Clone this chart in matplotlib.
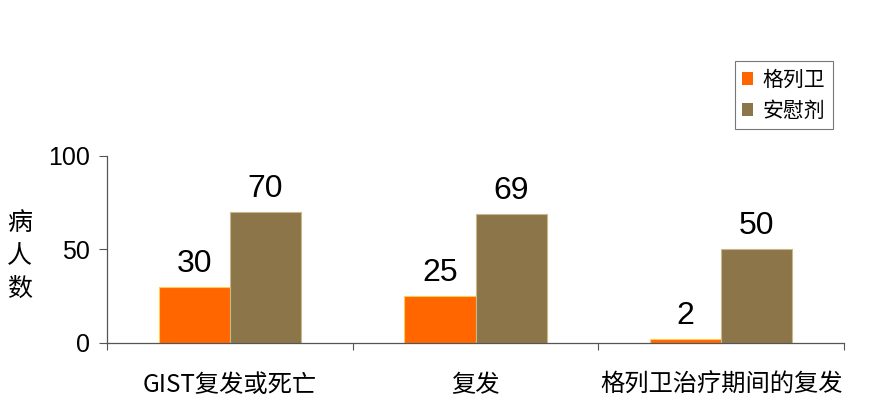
import numpy as np
import matplotlib.pyplot as plt
from matplotlib.patches import Patch

plt.rcParams['font.family'] = ['Noto Sans CJK SC', 'DejaVu Sans']

categories = ['GIST复发或死亡', '复发', '格列卫治疗期间的复发']
gleevec = [30, 25, 2]
placebo = [70, 69, 50]
series_names = ['格列卫', '安慰剂']
colors = ['#FF6600', '#8C7549']
edges = ['#FFCC55', '#C8B88A']

fig = plt.figure(figsize=(8.82, 4.04), dpi=100)
ax = fig.add_axes([0.1213, 0.151, 0.8357, 0.4629])

x = np.arange(len(categories))
w = 0.29
b1 = ax.bar(x - w / 2, gleevec, w, color=colors[0], edgecolor=edges[0], linewidth=0.8)
b2 = ax.bar(x + w / 2, placebo, w, color=colors[1], edgecolor=edges[1], linewidth=0.8)

for bars in (b1, b2):
    for r in bars:
        ax.annotate(f'{int(r.get_height())}', (r.get_x() + r.get_width() / 2, r.get_height()),
                    xytext=(0, 6), textcoords='offset points', ha='center', va='bottom',
                    fontsize=23, family='Liberation Sans')

ax.set_xlim(-0.5, len(categories) - 0.5)
ax.set_ylim(0, 100)
ax.set_yticks([0, 50, 100])
ax.set_yticklabels(['0', '50', '100'], family='Liberation Sans', fontsize=18)
ax.set_xticks(np.arange(len(categories) + 1) - 0.5)
ax.set_xticklabels([])
ax.set_xticks(x, minor=True)
ax.set_xticklabels(categories, minor=True, fontsize=17.5)
ax.tick_params(axis='x', which='minor', length=0, pad=21)
ax.tick_params(axis='x', which='major', length=5, color='#555555')
ax.tick_params(axis='y', length=6, color='#555555', pad=6)
for s in ['top', 'right']:
    ax.spines[s].set_visible(False)
for s in ['left', 'bottom']:
    ax.spines[s].set_color('#555555')
    ax.spines[s].set_linewidth(0.9)

fig.text(0.022, 0.366, '病\n人\n数', ha='center', va='center', fontsize=18, linespacing=1.35)

handles = [Patch(facecolor=c, edgecolor='none') for c in colors]
leg = fig.legend(handles, series_names, loc='upper left', bbox_to_anchor=(0.833, 0.848),
                 fontsize=15, frameon=True, fancybox=False, handlelength=0.55, handleheight=0.55,
                 handletextpad=0.45, labelspacing=0.45, borderpad=0.35, borderaxespad=0)
leg.get_frame().set_edgecolor('#555555')
leg.get_frame().set_linewidth(0.8)

fig.savefig('out.png', dpi=100)
